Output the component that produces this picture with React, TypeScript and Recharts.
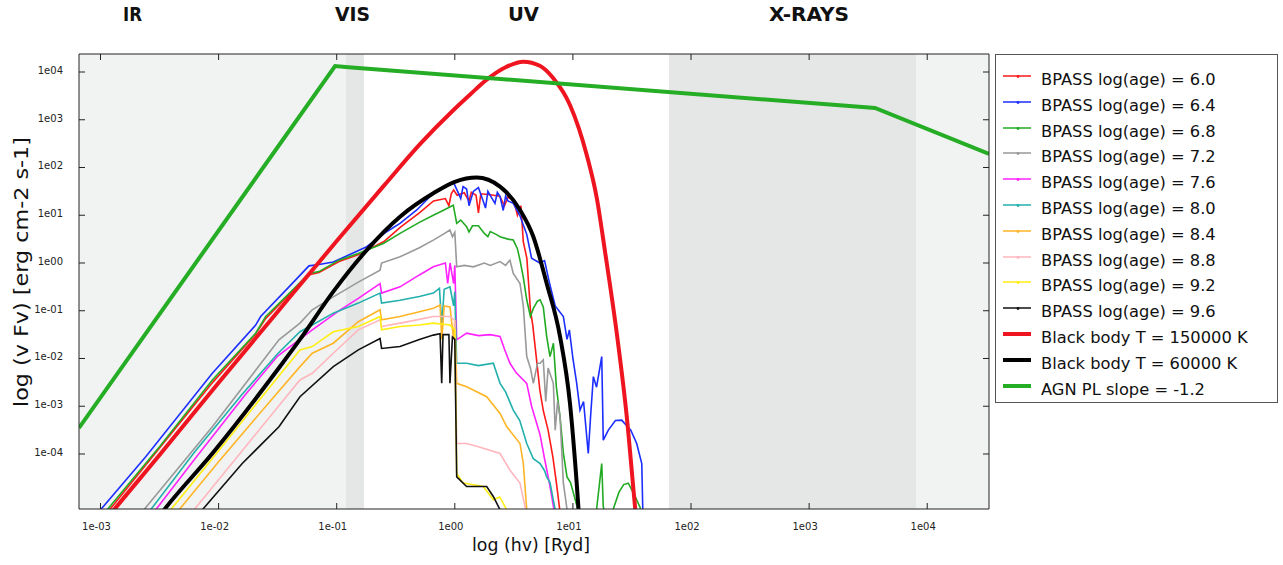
import React from "react";
import { LineChart, Line, XAxis, YAxis, ReferenceArea } from "recharts";

// all values are log10: x = log(hv) [Ryd], y = log(vFv)
const X_MIN = -3.182;
const X_MAX = 4.523;
const Y_MIN = -5.152;
const Y_MAX = 4.377;

const xTicks = [-3, -2, -1, 0, 1, 2, 3, 4];
const yTicks = [-4, -3, -2, -1, 0, 1, 2, 3, 4];

// shaded bands: [from, to, colour]
const bands: [number, number, string][] = [
  [X_MIN, -0.921, "#f1f3f2"],
  [-0.921, -0.769, "#e5e7e7"],
  [1.814, 3.905, "#e5e7e7"],
  [3.905, X_MAX, "#f1f3f2"],
];

const regionLabels = ["IR", "VIS", "UV", "X-RAYS"];

const bpass60 = [[-3.2, -5.9], [-2.94, -5.22], [-2.05, -2.5], [-1.69, -1.5], [-1.6, -1.16], [-1.38, -0.6], [-1.24, -0.25], [-1.15, -0.2], [-0.98, 0.03], [-0.82, 0.17], [-0.6, 0.45], [-0.46, 0.75], [-0.3, 1.05], [-0.18, 1.3], [-0.08, 1.35], [-0.05, 1.2], [-0.03, 1.45], [-0.01, 1.53], [0.02, 1.42], [0.08, 1.47], [0.12, 1.3], [0.14, 1.48], [0.18, 1.42], [0.2, 1.05], [0.22, 1.45], [0.3, 1.43], [0.38, 1.4], [0.42, 1.2], [0.45, 1.38], [0.5, 1.3], [0.53, 1.0], [0.56, 1.2], [0.58, 0.44], [0.61, 0.1], [0.64, -0.98], [0.66, -1.3], [0.7, -2.2], [0.72, -2.66], [0.75, -3.1], [0.79, -3.5], [0.83, -4.06], [0.86, -4.6], [0.89, -5.2], [0.91, -5.8]];

const bpass64 = [[-3.2, -5.75], [-3.0, -5.17], [-2.617, -4.06], [-2.053, -2.31], [-1.686, -1.3], [-1.644, -1.12], [-1.404, -0.5], [-1.235, -0.06], [-1.15, -0.03], [-1.029, 0.02], [-0.746, 0.34], [-0.577, 0.655], [-0.464, 0.83], [-0.322, 1.11], [-0.182, 1.46], [-0.013, 1.7], [0.02, 1.52], [0.05, 1.35], [0.07, 1.6], [0.1, 1.55], [0.12, 1.2], [0.157, 1.5], [0.2, 1.58], [0.24, 1.3], [0.26, 1.15], [0.28, 1.5], [0.34, 1.25], [0.36, 1.48], [0.383, 1.39], [0.41, 1.1], [0.43, 1.4], [0.45, 1.3], [0.495, 1.25], [0.55, 1.0], [0.609, 0.6], [0.65, 0.1], [0.72, 0.0], [0.76, 0.05], [0.8, -0.4], [0.85, -0.9], [0.919, -1.12], [0.95, -1.6], [0.97, -1.4], [1.0, -2.0], [1.032, -2.52], [1.06, -3.08], [1.09, -2.9], [1.13, -3.99], [1.15, -3.2], [1.173, -2.38], [1.2, -2.6], [1.244, -1.96], [1.257, -3.71], [1.3, -3.5], [1.36, -3.3], [1.413, -3.29], [1.49, -3.5], [1.54, -3.78], [1.583, -4.2], [1.591, -5.1], [1.6, -5.6]];

const bpass68 = [[-3.2, -5.9], [-2.944, -5.17], [-2.5, -3.85], [-2.053, -2.45], [-1.686, -1.47], [-1.601, -1.12], [-1.376, -0.57], [-1.235, -0.22], [-1.15, -0.18], [-0.98, 0.06], [-0.817, 0.2], [-0.605, 0.41], [-0.464, 0.62], [-0.3, 0.85], [-0.182, 1.0], [-0.1, 1.1], [-0.013, 1.21], [0.016, 0.83], [0.05, 0.9], [0.1, 0.76], [0.12, 0.65], [0.15, 0.78], [0.2, 0.78], [0.25, 0.62], [0.28, 0.55], [0.3, 0.66], [0.35, 0.6], [0.383, 0.55], [0.45, 0.5], [0.495, 0.48], [0.53, 0.3], [0.552, 0.06], [0.58, -0.3], [0.609, -0.77], [0.64, -1.12], [0.665, -0.95], [0.7, -0.8], [0.722, -0.77], [0.749, -0.92], [0.778, -1.54], [0.806, -1.96], [0.835, -1.68], [0.86, -2.6], [0.891, -3.22], [0.92, -4.0], [0.95, -4.48], [0.98, -4.6], [1.043, -5.17], [1.1, -5.6], [1.18, -5.6], [1.203, -5.1], [1.235, -4.4], [1.244, -4.2], [1.257, -5.1], [1.3, -5.6], [1.342, -5.15], [1.39, -4.8], [1.43, -4.64], [1.469, -4.61], [1.52, -4.85], [1.569, -5.12], [1.6, -5.6]];

const bpass72 = [[-2.8, -5.7], [-2.633, -5.17], [-2.053, -3.43], [-1.489, -1.61], [-1.311, -1.26], [-1.207, -0.98], [-1.029, -0.71], [-0.817, -0.4], [-0.633, -0.15], [-0.62, 0.0], [-0.464, 0.13], [-0.3, 0.32], [-0.182, 0.48], [-0.1, 0.6], [-0.041, 0.69], [-0.02, 0.55], [0.0, 0.64], [0.016, -0.08], [0.08, -0.05], [0.157, -0.08], [0.25, 0.0], [0.3, -0.05], [0.383, 0.03], [0.43, -0.05], [0.467, 0.06], [0.495, -0.22], [0.552, -0.43], [0.58, -0.9], [0.609, -1.96], [0.64, -2.2], [0.665, -2.52], [0.7, -2.1], [0.722, -2.1], [0.749, -2.03], [0.77, -2.9], [0.79, -2.2], [0.834, -2.52], [0.85, -3.5], [0.87, -2.9], [0.891, -3.22], [0.919, -4.61], [0.947, -5.1], [0.97, -5.7]];

const bpass76 = [[-2.7, -5.7], [-2.533, -5.17], [-2.2, -4.1], [-1.771, -2.75], [-1.5, -1.95], [-1.207, -1.4], [-0.97, -0.98], [-0.817, -0.74], [-0.633, -0.43], [-0.62, -0.63], [-0.464, -0.5], [-0.3, -0.25], [-0.182, -0.08], [-0.08, 0.0], [-0.06, -0.43], [-0.04, 0.0], [-0.01, -0.43], [0.0, -0.05], [0.016, -1.61], [0.1, -1.47], [0.2, -1.52], [0.3, -1.5], [0.383, -1.54], [0.42, -1.8], [0.467, -2.1], [0.52, -2.3], [0.609, -2.52], [0.65, -3.0], [0.722, -3.6], [0.76, -4.1], [0.8, -4.6], [0.84, -5.17], [0.86, -5.7]];

const bpass80 = [[-2.75, -5.7], [-2.576, -5.17], [-2.2, -3.95], [-1.8, -2.75], [-1.5, -1.9], [-1.311, -1.44], [-1.207, -1.3], [-1.029, -1.05], [-0.817, -0.84], [-0.633, -0.63], [-0.62, -0.84], [-0.464, -0.78], [-0.3, -0.7], [-0.182, -0.63], [-0.13, -0.53], [-0.11, -1.3], [-0.09, -0.55], [-0.041, -0.5], [-0.01, -0.9], [0.0, -0.6], [0.016, -2.1], [0.1, -2.1], [0.2, -2.15], [0.326, -2.1], [0.383, -2.52], [0.43, -2.7], [0.495, -3.08], [0.55, -3.3], [0.609, -3.78], [0.665, -4.1], [0.722, -4.2], [0.76, -4.35], [0.778, -4.48], [0.806, -4.6], [0.85, -5.17], [0.87, -5.7]];

const bpass84 = [[-2.5, -5.7], [-2.335, -5.17], [-2.0, -4.16], [-1.6, -3.0], [-1.311, -2.17], [-1.207, -1.89], [-1.029, -1.68], [-0.817, -1.23], [-0.633, -0.98], [-0.62, -1.19], [-0.464, -1.12], [-0.3, -1.02], [-0.182, -0.95], [-0.125, -0.88], [-0.11, -1.6], [-0.09, -0.9], [-0.041, -0.92], [-0.01, -1.6], [0.0, -1.2], [0.016, -2.52], [0.1, -2.59], [0.27, -2.8], [0.383, -3.15], [0.44, -3.43], [0.552, -3.78], [0.58, -4.2], [0.609, -5.17], [0.63, -5.7]];

const bpass88 = [[-2.4, -5.7], [-2.208, -5.17], [-1.8, -3.93], [-1.5, -3.02], [-1.311, -2.45], [-1.207, -2.31], [-1.029, -1.89], [-0.817, -1.4], [-0.633, -1.19], [-0.62, -1.33], [-0.464, -1.26], [-0.3, -1.18], [-0.182, -1.12], [-0.041, -1.12], [0.0, -1.2], [0.016, -3.78], [0.1, -3.78], [0.2, -3.85], [0.383, -3.99], [0.467, -4.34], [0.552, -4.61], [0.6, -5.17], [0.62, -5.7]];

const bpass92 = [[-2.6, -5.7], [-2.406, -5.17], [-2.0, -3.93], [-1.6, -2.7], [-1.311, -1.82], [-1.207, -1.75], [-1.029, -1.44], [-0.817, -1.33], [-0.633, -1.12], [-0.62, -1.4], [-0.464, -1.33], [-0.3, -1.3], [-0.182, -1.26], [-0.041, -1.3], [0.0, -1.4], [0.016, -4.41], [0.072, -4.61], [0.241, -4.68], [0.326, -4.96], [0.38, -4.9], [0.44, -5.17], [0.46, -5.7]];

const bpass96 = [[-2.3, -5.7], [-2.138, -5.17], [-1.8, -4.2], [-1.489, -3.43], [-1.311, -2.8], [-1.029, -2.17], [-0.817, -1.82], [-0.633, -1.58], [-0.62, -1.79], [-0.464, -1.75], [-0.3, -1.6], [-0.182, -1.51], [-0.125, -1.48], [-0.111, -2.52], [-0.1, -1.5], [-0.05, -1.5], [-0.041, -2.52], [-0.02, -1.55], [0.0, -1.6], [0.016, -4.48], [0.1, -4.68], [0.27, -4.68], [0.326, -4.89], [0.383, -5.17], [0.4, -5.7]];

const bb150k = [[-3.05, -5.67], [-2.886, -5.17], [-2.5, -4.02], [-2.0, -2.51], [-1.5, -1.02], [-1.0, 0.46], [-0.6, 1.62], [-0.295, 2.49], [-0.013, 3.2], [0.13, 3.53], [0.27, 3.84], [0.43, 4.1], [0.58, 4.216], [0.72, 4.13], [0.834, 3.868], [0.975, 3.309], [1.117, 2.262], [1.202, 1.361], [1.272, 0.237], [1.371, -1.466], [1.456, -3.219], [1.526, -5.104], [1.55, -5.7]];

const bb60k = [[-2.6, -5.62], [-2.462, -5.17], [-2.05, -3.98], [-1.49, -2.2], [-1.311, -1.6], [-1.029, -0.6], [-0.746, 0.27], [-0.464, 0.97], [-0.182, 1.46], [0.0, 1.7], [0.185, 1.79], [0.383, 1.6], [0.552, 1.11], [0.665, 0.55], [0.778, -0.43], [0.891, -1.54], [0.975, -2.94], [1.032, -4.61], [1.06, -5.6]];

const agnPL = [[-3.182, -3.455], [-1.014, 4.126], [-0.9, 4.1], [3.558, 3.246], [4.523, 2.283]];

const series = [
  { name: "BPASS log(age) = 6.0", color: "#ff1a1a", width: 1.6, data: bpass60 },
  { name: "BPASS log(age) = 6.4", color: "#1c2eff", width: 1.6, data: bpass64 },
  { name: "BPASS log(age) = 6.8", color: "#22aa22", width: 1.6, data: bpass68 },
  { name: "BPASS log(age) = 7.2", color: "#999999", width: 1.6, data: bpass72 },
  { name: "BPASS log(age) = 7.6", color: "#ff22ff", width: 1.6, data: bpass76 },
  { name: "BPASS log(age) = 8.0", color: "#22b0ad", width: 1.6, data: bpass80 },
  { name: "BPASS log(age) = 8.4", color: "#ffb526", width: 1.6, data: bpass84 },
  { name: "BPASS log(age) = 8.8", color: "#ffb6bd", width: 1.6, data: bpass88 },
  { name: "BPASS log(age) = 9.2", color: "#ffee11", width: 1.6, data: bpass92 },
  { name: "BPASS log(age) = 9.6", color: "#111111", width: 1.6, data: bpass96 },
  { name: "Black body T = 150000 K", color: "#ee1520", width: 4, data: bb150k },
  { name: "Black body T = 60000 K", color: "#000000", width: 4, data: bb60k },
  { name: "AGN PL slope = -1.2", color: "#25ad25", width: 4, data: agnPL },
];

const toPts = (a: number[][]) => a.map(([x, y]) => ({ x, y }));
const fmtExp = (v: number) => `1e${v < 0 ? "-" : ""}${String(Math.abs(v)).padStart(2, "0")}`;

const tickFont = { fontFamily: "DejaVu Sans, Verdana, sans-serif", fontSize: 10, fill: "#222" };
const AXIS = "#222";

const BottomTick = (p: any) => (
  <g>
    <line x1={p.x} x2={p.x} y1={p.y} y2={p.y - 6} stroke={AXIS} />
    <text x={p.x - 4} y={p.y + 21} textAnchor="middle" {...tickFont}>{fmtExp(p.payload.value)}</text>
  </g>
);
const TopTick = (p: any) => <line x1={p.x} x2={p.x} y1={p.y} y2={p.y + 6} stroke={AXIS} />;
const LeftTick = (p: any) => (
  <g>
    <line x1={p.x} x2={p.x + 6} y1={p.y} y2={p.y} stroke={AXIS} />
    <text x={p.x - 16} y={p.y + 2} textAnchor="end" {...tickFont}>{fmtExp(p.payload.value)}</text>
  </g>
);
const RightTick = (p: any) => <line x1={p.x} x2={p.x - 6} y1={p.y} y2={p.y} stroke={AXIS} />;

function LegendBox() {
  return (
    <div style={{ position: "absolute", left: 995, top: 54, width: 283, height: 349, border: "1px solid #555", background: "#fff", boxSizing: "border-box" }}>
      {series.map((s, i) => (
        <div key={s.name} style={{ position: "absolute", left: 0, top: 13 + i * 25.8, height: 26, width: 280 }}>
          <svg width={30} height={26} style={{ position: "absolute", left: 6, top: 0 }}>
            <line x1={1} x2={29} y1={8} y2={8} stroke={s.color} strokeWidth={s.width > 2 ? 4 : 1.5} />
            <circle cx={16} cy={8.5} r={1.4} fill={s.color} />
          </svg>
          <span style={{ position: "absolute", left: 45, top: 2, fontFamily: "DejaVu Sans, Verdana, sans-serif", fontSize: 16.3, color: "#111", whiteSpace: "nowrap", lineHeight: "20px" }}>
            {s.name}
          </span>
        </div>
      ))}
    </div>
  );
}

export default function App() {
  const regionX = [123, 335, 508, 769];
  const regionW = [19, 35, 31, 80];
  return (
    <div style={{ position: "absolute", left: 0, top: 0, width: 1283, height: 565, background: "#fff" }}>
      <LineChart width={1283} height={565} margin={{ top: 53, right: 293, bottom: 0, left: 0 }}>
        <XAxis xAxisId="b" type="number" dataKey="x" domain={[X_MIN, X_MAX]} allowDataOverflow ticks={xTicks} interval={0} tickSize={0} tickMargin={0} tickLine={false} axisLine={{ stroke: AXIS }} height={56} orientation="bottom" tick={BottomTick} />
        <XAxis xAxisId="t" type="number" dataKey="x" domain={[X_MIN, X_MAX]} allowDataOverflow ticks={xTicks} interval={0} tickSize={0} tickMargin={0} tickLine={false} axisLine={{ stroke: AXIS }} height={1} orientation="top" tick={TopTick} />
        <YAxis yAxisId="l" type="number" dataKey="y" domain={[Y_MIN, Y_MAX]} allowDataOverflow ticks={yTicks} interval={0} tickSize={0} tickMargin={0} tickLine={false} axisLine={{ stroke: AXIS }} width={79} orientation="left" tick={LeftTick} />
        <YAxis yAxisId="r" type="number" dataKey="y" domain={[Y_MIN, Y_MAX]} allowDataOverflow ticks={yTicks} interval={0} tickSize={0} tickMargin={0} tickLine={false} axisLine={{ stroke: AXIS }} width={1} orientation="right" tick={RightTick} />
        {bands.map(([a, b, c]) => (
          <ReferenceArea key={a} xAxisId="b" yAxisId="l" x1={a} x2={b} fill={c} fillOpacity={1} stroke="none" ifOverflow="hidden" />
        ))}
        {series.map((s) => (
          <Line
            key={s.name}
            xAxisId="b"
            yAxisId="l"
            data={toPts(s.data)}
            dataKey="y"
            type={s.width > 2 && s.data.length > 6 ? "monotone" : "linear"}
            stroke={s.color}
            strokeWidth={s.width}
            dot={false}
            activeDot={false}
            isAnimationActive={false}
          />
        ))}
      </LineChart>
      <LegendBox />
      <svg width={1283} height={565} style={{ position: "absolute", left: 0, top: 0, pointerEvents: "none" }}>
        {regionLabels.map((t, i) => (
          <text key={t} x={regionX[i]} y={21} textLength={regionW[i]} lengthAdjust="spacingAndGlyphs" fontFamily="Liberation Sans Narrow, DejaVu Sans Condensed, Liberation Sans, sans-serif" fontWeight="bold" fontSize={19} fill="#111">{t}</text>
        ))}
        <text x={472} y={551} textLength={118} lengthAdjust="spacingAndGlyphs" fontFamily="DejaVu Sans, Verdana, sans-serif" fontSize={17} fill="#111">log (hv) [Ryd]</text>
        <text transform="translate(28,272) rotate(-90)" textAnchor="middle" textLength={270} lengthAdjust="spacingAndGlyphs" fontFamily="DejaVu Sans, Verdana, sans-serif" fontSize={19} fill="#111">log (v Fv) [erg cm-2 s-1]</text>
      </svg>
    </div>
  );
}
